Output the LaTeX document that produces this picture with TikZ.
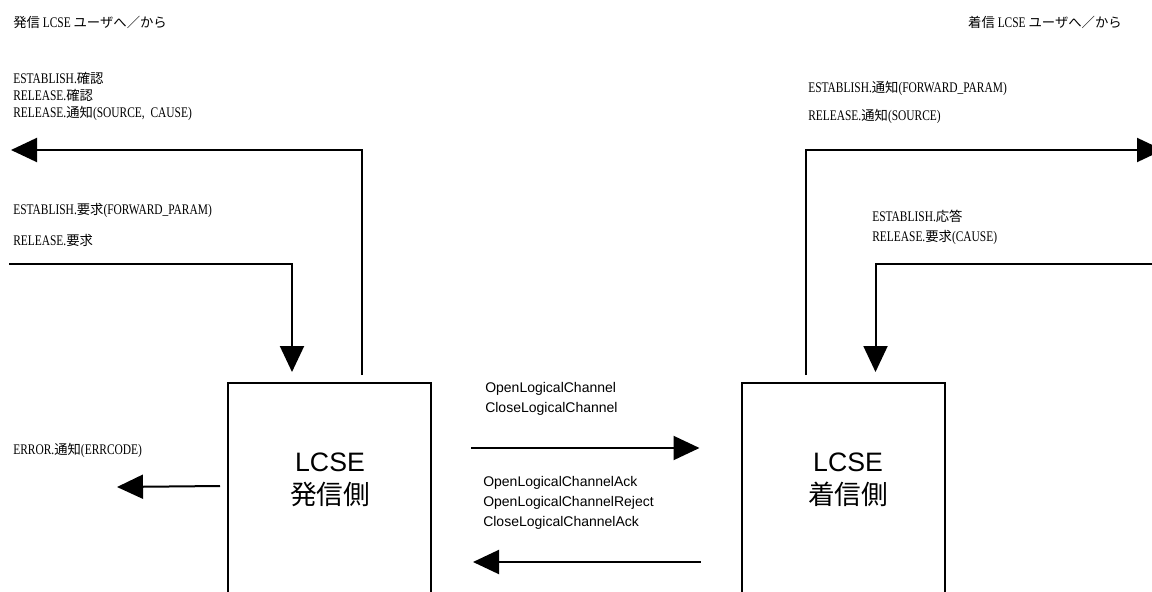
\documentclass[tikz,border=0pt]{standalone}
\usepackage{fontspec}
\setmainfont{Liberation Serif}[FakeStretch=0.78]
\newfontfamily\jpfont{Noto Sans CJK JP}[Scale=0.91]
\newfontfamily\jpboxfont{Noto Sans CJK JP}
\newfontfamily\arialfont{Liberation Sans}
\newcommand\jp[1]{{\jpfont #1}}
\usetikzlibrary{arrows.meta,calc}

\begin{document}
\begin{tikzpicture}[x=0.75pt,y=-0.75pt,
  arr/.style={line width=1.5pt,-{Triangle[length=19.5pt,width=18pt]}},
  lcse/.style={draw,line width=1.5pt,minimum width=152.25pt,minimum height=162.75pt,inner sep=0pt},
  boxtext/.style={align=center,inner sep=0pt,font=\arialfont\fontsize{20}{25}\selectfont},
  lbl/.style={anchor=west,inner sep=0pt,align=left},
  msg/.style={lbl,font=\arialfont\fontsize{10.5}{15}\selectfont}]

\useasboundingbox (0,0) rectangle (1152,592);
\clip (0,0) rectangle (1152,592);

% the two protocol entities (bottoms run off the page)
\node[lcse] (orig) at (329.5,491.5) {};
\node[lcse] (term) at (843,491.5) {};
\node[boxtext] (origtxt) at (330,480) {LCSE\\{\jpboxfont 発信側}};
\node[boxtext] (termtxt) at (848,480) {LCSE\\{\jpboxfont 着信側}};

% user-side titles
\node[lbl,font=\fontsize{11}{12}\selectfont] (titleL) at (13,22) {\jp{発信} LCSE \jp{ユーザへ／から}};
\node[anchor=east,inner sep=0pt,font=\fontsize{11}{12}\selectfont] (titleR) at (1122,22) {\jp{着信} LCSE \jp{ユーザへ／から}};

% primitive labels
\node[lbl,font=\fontsize{11}{12.75}\selectfont] (grpL1) at (13,96)
  {ESTABLISH.\jp{確認}\\RELEASE.\jp{確認}\\RELEASE.\jp{通知}(SOURCE,\ \ CAUSE)};
\node[lbl,font=\fontsize{11}{21}\selectfont] (grpR1) at (808,102)
  {ESTABLISH.\jp{通知}(FORWARD\_PARAM)\\RELEASE.\jp{通知}(SOURCE)};
\node[lbl,font=\fontsize{11}{23}\selectfont] (grpL2) at (13,225)
  {ESTABLISH.\jp{要求}(FORWARD\_PARAM)\\RELEASE.\jp{要求}};
\node[lbl,font=\fontsize{11}{15}\selectfont] (grpR2) at (872,227)
  {ESTABLISH.\jp{応答}\\RELEASE.\jp{要求}(CAUSE)};
\node[lbl,font=\fontsize{11}{12}\selectfont] (err) at (13,450)
  {ERROR.\jp{通知}(ERRCODE)};

% peer messages
\node[msg] (msgF) at (485,399) {OpenLogicalChannel\\CloseLogicalChannel};
\node[msg] (msgB) at (483,503) {OpenLogicalChannelAck\\OpenLogicalChannelReject\\CloseLogicalChannelAck};

% free ends of the connectors
\coordinate (outL) at (11,150);
\coordinate (inL) at (9,264);
\coordinate (errEnd) at (117,487);
\coordinate (outR) at (1163,150);
\coordinate (inR) at (1160,264);

% originating side user interface
\draw[arr] ($(orig.north west)+(135,-7)$) |- (outL);
\draw[arr] (inL) -| ($(orig.north west)+(65,-10)$);
\draw[arr] ($(orig.north west)+(-7,104)$) -- (errEnd);

% terminating side user interface
\draw[arr] ($(term.north west)+(65,-7)$) |- (outR);
\draw[arr] (inR) -| ($(term.north west)+(135,-10)$);

% peer-to-peer messages
\draw[arr] ($(orig.north east)+(39,66)$) -- ($(term.north west)+(-41,66)$);
\draw[arr] ($(term.north west)+(-40,180)$) -- ($(orig.north east)+(41,180)$);

\end{tikzpicture}
\end{document}
